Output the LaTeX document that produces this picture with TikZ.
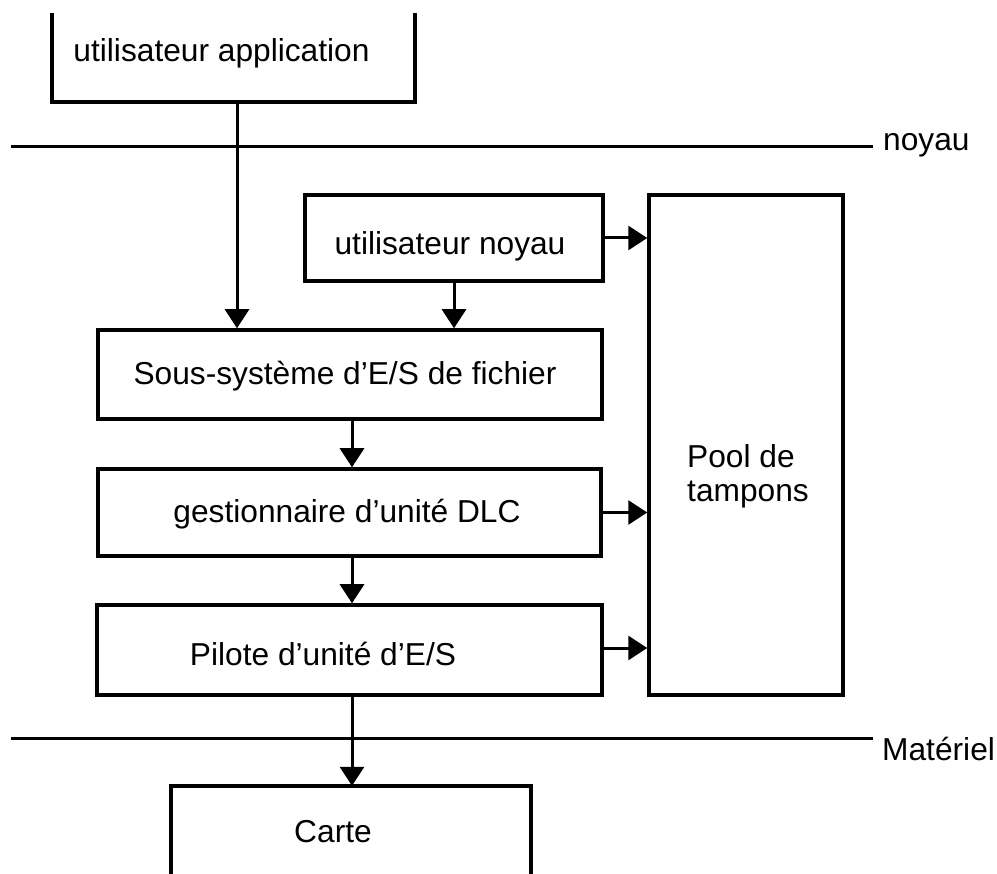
\documentclass[tikz,border=0pt]{standalone}
\usepackage{fontspec}
\setmainfont{Liberation Sans}
\usetikzlibrary{arrows.meta}

\begin{document}
\begin{tikzpicture}[x=1pt,y=-1pt,
  txt/.style={inner sep=0pt, anchor=base, font=\fontsize{31.7}{34}\selectfont},
  box/.style={draw, line width=3.5pt, rectangle, inner sep=0pt},
  openbox/.style={rectangle, inner sep=0pt},
  sides/.style={line width=3.5pt, line join=miter},
  layer/.style={line width=3pt},
  arr/.style={line width=3pt, -{Triangle[width=24pt,length=19pt]}}
]
\useasboundingbox (0,0) rectangle (997,874);

% boxes (positions are centres)
\node[openbox, minimum width=363pt, minimum height=89pt] (app)    at (233.5,57.5) {};
\node[box, minimum width=298pt, minimum height=86pt]     (kuser)  at (454,238)    {};
\node[box, minimum width=504pt, minimum height=89pt]     (fsub)   at (350,374.5)  {};
\node[box, minimum width=503pt, minimum height=87pt]     (dlc)    at (349.5,512.5){};
\node[box, minimum width=505pt, minimum height=90pt]     (pilote) at (349.5,650)  {};
\node[box, minimum width=194pt, minimum height=500pt]    (pool)   at (746,445)    {};
\node[openbox, minimum width=360pt, minimum height=88pt] (carte)  at (351,830)    {};

% boxes cut by the frame: only three sides
\draw[sides] (app.north west) -- (app.south west) -- (app.south east) -- (app.north east);
\draw[sides] (carte.south west) -- (carte.north west) -- (carte.north east) -- (carte.south east);

% box texts
\node[txt] (tapp)    at (221.5,62) {utilisateur application};
\node[txt] (tkuser)  at (450,255)  {utilisateur noyau};
\node[txt] (tfsub)   at (345,385)  {Sous-système d’E/S de fichier};
\node[txt] (tdlc)    at (347,523)  {gestionnaire d’unité DLC};
\node[txt] (tpilote) at (323,665)  {Pilote d’unité d’E/S};
\node[txt, anchor=base west] (tpool1) at (687,468) {Pool de};
\node[txt, anchor=base west] (tpool2) at (687,502) {tampons};
\node[txt] (tcarte)  at (333,842)  {Carte};

% layer boundaries
\coordinate (k0) at (11,147);
\coordinate (k1) at (873,147);
\coordinate (h0) at (11,738);
\coordinate (h1) at (873,738);
\draw[layer] (k0) -- (k1);
\draw[layer] (h0) -- (h1);
\node[txt, anchor=base west] (lnoyau) at (883,151) {noyau};
\node[txt, anchor=base west] (lmat)   at (882,760) {Matériel};

% data flow
\draw[arr] ([xshift=3.5pt]app.south) -- ([xshift=3.5pt]app.south |- fsub.north);
\draw[arr] (kuser.south) -- (kuser.south |- fsub.north);
\draw[arr] (kuser.east) -- (kuser.east -| pool.west);
\draw[arr] ([xshift=2pt]fsub.south) -- ([xshift=2pt]fsub.south |- dlc.north);
\draw[arr] (dlc.east) -- (dlc.east -| pool.west);
\draw[arr] ([xshift=2.5pt]dlc.south) -- ([xshift=2.5pt]dlc.south |- pilote.north);
\draw[arr] ([yshift=2pt]pilote.east) -- ([yshift=2pt]pilote.east -| pool.west);
\draw[arr] ([xshift=2.5pt]pilote.south) -- ([xshift=2.5pt]pilote.south |- carte.north);
\end{tikzpicture}
\end{document}
